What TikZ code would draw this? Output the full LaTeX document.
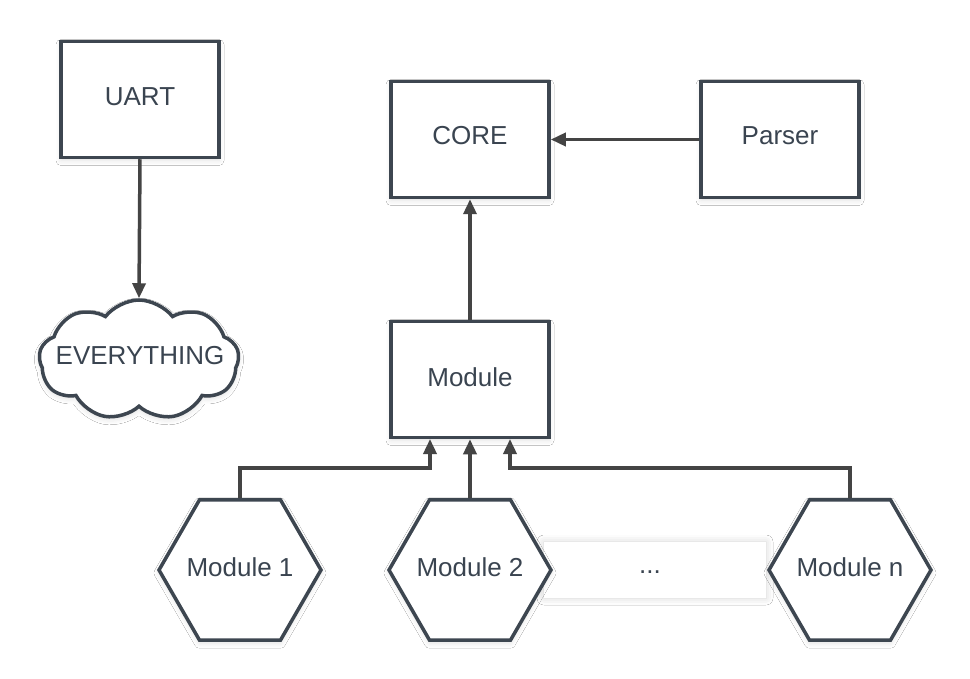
\documentclass[tikz,border=0pt]{standalone}
\usepackage{fontspec}
\setmainfont{Liberation Sans}
\usetikzlibrary{arrows.meta,shapes.geometric,shapes.symbols,shadows.blur}
\definecolor{edge}{HTML}{3D4650}
\definecolor{wire}{HTML}{444444}
\definecolor{txt}{HTML}{3A4450}
\begin{document}
\begin{tikzpicture}[x=1pt,y=-1pt,
  every node/.style={font=\fontsize{26}{30}\selectfont, text=txt},
  box/.style={draw=edge, line width=3.5pt, fill=white, minimum width=158pt, minimum height=116pt, inner sep=0pt,
     blur shadow={shadow xshift=0pt, shadow yshift=-3pt, shadow blur radius=5pt, shadow opacity=12}},
  hexa/.style={draw=edge, line width=3.5pt, fill=white, regular polygon, regular polygon sides=6,
     minimum size=162pt, inner sep=0pt,
     blur shadow={shadow xshift=0pt, shadow yshift=-3pt, shadow blur radius=5pt, shadow opacity=12}},
  wireline/.style={draw=wire, line width=3.5pt, -{Triangle[length=15pt,width=13pt]}}
]
\useasboundingbox (0,0) rectangle (970,679);
\fill[white] (0,0) rectangle (970,679);

% the "..." panel
\node[fill=white, minimum width=222pt, minimum height=56pt,
      blur shadow={shadow xshift=0pt, shadow yshift=0pt, shadow blur radius=7pt, shadow opacity=18}] (dots) at (655,570) {};
\node at (650,572) (dotstxt) {...};

\node[box] (uart) at (140,99.5) {};
\node at (140,97) {UART};
\node[box] (core) at (470,139.5) {};
\node at (470,136) {CORE};
\node[box] (parser) at (780,139.5) {};
\node at (780,136) {Parser};
\node[box] (module) at (470,379.5) {};
\node at (470,377) {Module};

\node[cloud, cloud puffs=9, cloud puff arc=105, aspect=1.7, draw=edge, line width=3.5pt, fill=white,
      minimum width=200pt, minimum height=120pt, inner sep=0pt,
      blur shadow={shadow xshift=0pt, shadow yshift=-3pt, shadow blur radius=5pt, shadow opacity=12}] (cloud) at (139,360) {};
\node at (140,356) {EVERYTHING};

\node[hexa] (m1) at (240,570) {};
\node at (240,567) {Module 1};
\node[hexa] (m2) at (470,570) {};
\node at (470,567) {Module 2};
\node[hexa] (mn) at (850,570) {};
\node at (850,567) {Module n};

\coordinate (j1) at (430,439);
\coordinate (jn) at (510,439);

\draw[wireline] (uart.south) -- (cloud.north);
\draw[wireline] (parser.west) -- (core.east);
\draw[wireline] (module.north) -- (core.south);
\draw[wireline] (m2.north) -- (module.south);
\draw[wireline] (m1.north) -- ++(0,-30) -| (j1);
\draw[wireline] (mn.north) -- ++(0,-30) -| (jn);
\end{tikzpicture}
\end{document}
